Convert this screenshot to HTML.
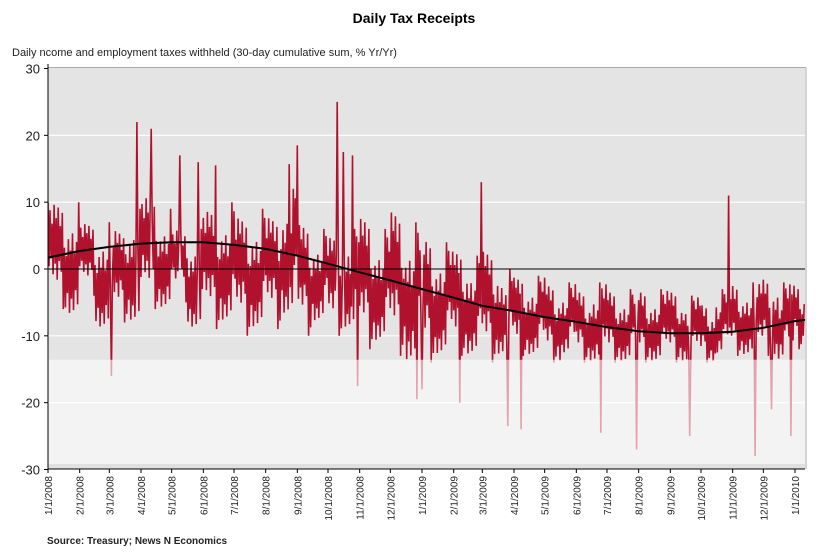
<!DOCTYPE html>
<html><head><meta charset="utf-8"><style>
body{margin:0;background:#fff;width:824px;height:549px;overflow:hidden;font-family:"Liberation Sans",sans-serif}
</style></head><body>
<svg width="824" height="549" xmlns="http://www.w3.org/2000/svg">
<text x="414" y="23" text-anchor="middle" font-size="14" font-weight="bold">Daily Tax Receipts</text>
<text x="12" y="56" font-size="11" fill="#222">Daily ncome and employment taxes withheld (30-day cumulative sum, % Yr/Yr)</text>
<text x="47" y="544" font-size="10" font-weight="bold" fill="#222">Source: Treasury; News N Economics</text>
<g id="plot"></g>
</svg>
<script>
const yTicks=[30,20,10,0,-10,-20,-30];
const monthLabels=["1/1/2008","2/1/2008","3/1/2008","4/1/2008","5/1/2008","6/1/2008","7/1/2008","8/1/2008","9/1/2008","10/1/2008","11/1/2008","12/1/2008","1/1/2009","2/1/2009","3/1/2009","4/1/2009","5/1/2009","6/1/2009","7/1/2009","8/1/2009","9/1/2009","10/1/2009","11/1/2009","12/1/2009","1/1/2010"];
const binHi=[10,10,7,7,6,9,11,9,6,6,9,10,8,9,8,12,7,6,5,6,8,6,9,7,5,4,3,2,3,1,-1,-1,-2,-2,-3,-2,-3,-3,-3,-3,-3,-4,-5,-3,-2,-2,-1,-2,-2,-5,-6];
const binLo=[-6,-7,-4,-9,-8,-8,-6,-6,-5,-9,-9,-8,-10,-9,-9,-7,-10,-8,-10,-9,-12,-11,-13,-14,-14,-13,-13,-13,-14,-13,-13,-13,-14,-13,-14,-14,-14,-14,-14,-14,-14,-14,-14,-13,-13,-13,-13,-14,-12,-12,-11];
const spikeDays=[87,101,129,147,164,236,244,283,289,298,424,666,62,303,361,366,403,450,463,541,576,628,692,708,727];
const spikeVals=[22,21,17,16,15.5,15.7,18.5,25,17.5,17,13,11,-16,-17.5,-19.5,-18,-20,-23.5,-24,-24.5,-27,-25,-28,-21,-25];
const trendVals=[1.7,2.7,3.3,3.8,4,4,3.6,3,2,0.8,-0.5,-1.7,-3,-4.3,-5.5,-6.3,-7.2,-7.9,-8.7,-9.3,-9.6,-9.6,-9.4,-8.8,-7.8,-7.2];

const NS="http://www.w3.org/2000/svg";
const X0=48,X1=805,Y0=68,Y1=469;
const dayToX=d=>48+d*(747/731);
const yScale=v=>269-v*(401/60);
const monthDay=i=>{const y=2008+Math.floor(i/12),m=i%12;return (Date.UTC(y,m,1)-Date.UTC(2008,0,1))/864e5;};
const plot=document.getElementById('plot');
function mk(tag,attrs,parent){const e=document.createElementNS(NS,tag);for(const k in attrs)e.setAttribute(k,attrs[k]);(parent||plot).appendChild(e);return e;}

let bg=mk('rect',{x:X0,y:Y0,width:X1-X0,height:yScale(-13.6)-Y0,fill:'#e4e4e4'});


let bg2=mk('rect',{x:X0,y:yScale(-13.6),width:X1-X0,height:Y1-yScale(-13.6),fill:'#f3f3f3'});


mk('rect',{x:X0,y:Y1-5,width:X1-X0,height:5,fill:'#e0e0e0'});
mk('line',{x1:X1+1,y1:Y0,x2:X1+1,y2:Y1,stroke:'#aaa','stroke-width':1});
mk('line',{x1:X0,y1:Y0-0.5,x2:X1+1,y2:Y0-0.5,stroke:'#aaa','stroke-width':1});
yTicks.forEach(v=>{
  if(v!==0&&v!==30&&v!==-30){const g=mk('line',{x1:X0,y1:yScale(v),x2:X1,y2:yScale(v),stroke:'#fff','stroke-width':1.2});
  
  }
  const t=mk('text',{x:40,y:yScale(v)+5,'text-anchor':'end','font-size':13,fill:'#222'});t.textContent=v;
  
  
  mk('line',{x1:X0-4,y1:yScale(v),x2:X0,y2:yScale(v),stroke:'#000'});
});

const pat=[1,0.2,0.85,0.05,0.6,0.35,0.95,0.15,0.7,0.45,0.9,0.1,0.55,0.3,0.8];
let pts=[];
const nDays=741;
for(let d=0;d<nDays;d++){
  const b=Math.min(binHi.length-1,Math.floor(d/15.2));
  const hi=binHi[b],lo=binLo[b];
  const f=pat[d%pat.length];
  const v=(d%2===0)?hi-(hi-lo)*(1-f)*0.5:lo+(hi-lo)*(1-f)*0.5;
  let val=v;
  const si=spikeDays.indexOf(d);if(si>=0)val=spikeVals[si];
  pts.push([dayToX(d),yScale(val)]);
}
const dStr='M'+pts.map(p=>p[0].toFixed(1)+','+p[1].toFixed(1)).join('L');
const defs=mk('defs',{});
const c1=mk('clipPath',{id:'cTop'},defs);mk('rect',{x:X0,y:0,width:X1-X0,height:yScale(-13.6)},c1);
const c2=mk('clipPath',{id:'cBot'},defs);mk('rect',{x:X0,y:yScale(-13.6),width:X1-X0,height:200},c2);
const c3=mk('clipPath',{id:'cAll'},defs);mk('rect',{x:X0,y:Y0,width:X1-X0,height:Y1-Y0},c3);
const s1=mk('path',{d:dStr,fill:'none',stroke:'#b0122e','stroke-width':1.6,'clip-path':'url(#cTop)'});


const s2=mk('path',{d:dStr,fill:'none',stroke:'#e3a3ae','stroke-width':1.6,'clip-path':'url(#cBot)'});



const z=mk('line',{x1:X0,y1:yScale(0),x2:X1,y2:yScale(0),stroke:'#000','stroke-width':1});



const tp=trendVals.map((v,i)=>[dayToX(monthDay(i)),yScale(v)]);
const tr=mk('path',{d:'M'+tp.map(p=>p[0].toFixed(1)+','+p[1].toFixed(1)).join('L'),fill:'none',stroke:'#000','stroke-width':2,'clip-path':'url(#cAll)'});



mk('line',{x1:X0,y1:Y0-4,x2:X0,y2:Y1,stroke:'#000'});
mk('line',{x1:X0,y1:Y1,x2:X1,y2:Y1,stroke:'#000'});
monthLabels.forEach((l,i)=>{
  const x=dayToX(monthDay(i));
  mk('line',{x1:x,y1:Y1,x2:x,y2:Y1+4,stroke:'#000'});
  const t=mk('text',{x:0,y:0,'text-anchor':'end','font-size':10,fill:'#222',transform:`translate(${x+4},${Y1+7}) rotate(-90)`});
  t.textContent=l;
  
  
});
</script>
</body></html>
